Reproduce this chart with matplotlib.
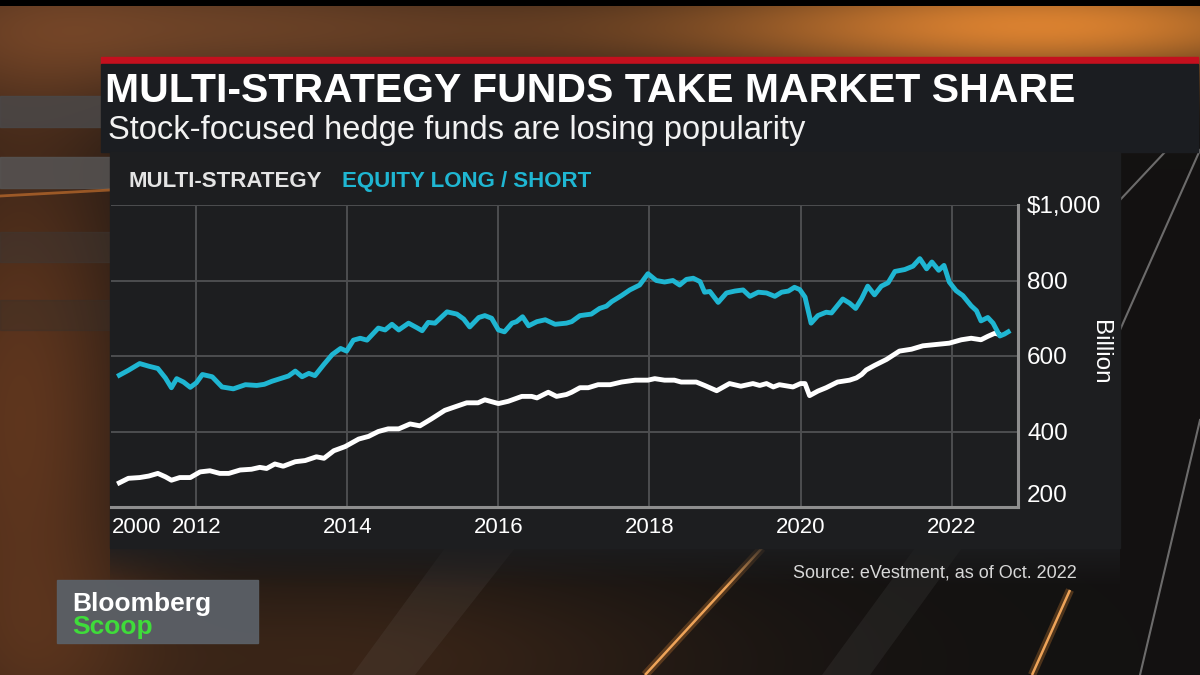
import numpy as np
import matplotlib
matplotlib.use("Agg")
import matplotlib.pyplot as plt
from matplotlib.patches import Rectangle, Polygon

# Data (assets, $ billion)
els_years = [2010.98, 2011.10, 2011.25, 2011.37, 2011.49, 2011.59, 2011.67, 2011.74, 2011.83, 2011.92,
             2012.00, 2012.08, 2012.21, 2012.34, 2012.49, 2012.65, 2012.80, 2012.90, 2013.00, 2013.22,
             2013.31, 2013.40, 2013.49, 2013.57, 2013.69, 2013.80, 2013.91, 2013.99, 2014.08, 2014.17,
             2014.26, 2014.41, 2014.50, 2014.59, 2014.68, 2014.81, 2014.92, 2014.99, 2015.07, 2015.16,
             2015.32, 2015.45, 2015.54, 2015.62, 2015.74, 2015.82, 2015.91, 2016.00, 2016.08, 2016.18,
             2016.24, 2016.32, 2016.40, 2016.51, 2016.62, 2016.75, 2016.90, 2016.97, 2017.08, 2017.23,
             2017.34, 2017.43, 2017.50, 2017.63, 2017.74, 2017.87, 2017.98, 2018.09, 2018.20, 2018.31,
             2018.40, 2018.49, 2018.58, 2018.67, 2018.73, 2018.80, 2018.91, 2019.02, 2019.13, 2019.24,
             2019.33, 2019.44, 2019.55, 2019.66, 2019.75, 2019.84, 2019.92, 2019.99, 2020.06, 2020.14,
             2020.23, 2020.34, 2020.41, 2020.56, 2020.65, 2020.73, 2020.81, 2020.89, 2020.98, 2021.07,
             2021.16, 2021.25, 2021.38, 2021.49, 2021.58, 2021.67, 2021.74, 2021.83, 2021.90, 2021.97,
             2022.06, 2022.15, 2022.26, 2022.33, 2022.39, 2022.48, 2022.55, 2022.64, 2022.70, 2022.75]
els_values = [549, 562, 580, 573, 567, 542, 516, 540, 531, 517,
              529, 551, 545, 518, 513, 524, 522, 525, 533, 547,
              560, 545, 554, 548, 578, 604, 620, 613, 642, 647,
              642, 674, 669, 684, 669, 687, 675, 667, 689, 687,
              717, 711, 698, 677, 702, 707, 700, 669, 664, 687,
              691, 704, 680, 691, 696, 684, 687, 691, 707, 711,
              726, 732, 744, 760, 775, 788, 818, 800, 796, 800,
              788, 803, 806, 797, 769, 771, 742, 767, 772, 775,
              758, 769, 767, 758, 769, 772, 782, 776, 756, 687,
              707, 716, 714, 751, 740, 726, 752, 785, 762, 785,
              794, 824, 829, 838, 858, 831, 849, 827, 840, 796,
              773, 760, 733, 720, 693, 702, 687, 653, 658, 664]

multi_years = [2010.98, 2011.10, 2011.25, 2011.37, 2011.49, 2011.59, 2011.67, 2011.78, 2011.92, 2012.05,
               2012.18, 2012.31, 2012.43, 2012.58, 2012.73, 2012.84, 2012.93, 2013.04, 2013.15, 2013.31,
               2013.44, 2013.59, 2013.69, 2013.82, 2013.97, 2014.15, 2014.28, 2014.41, 2014.54, 2014.68,
               2014.83, 2014.96, 2015.11, 2015.29, 2015.42, 2015.58, 2015.73, 2015.82, 2016.00, 2016.13,
               2016.31, 2016.44, 2016.51, 2016.66, 2016.77, 2016.90, 2016.97, 2017.08, 2017.19, 2017.32,
               2017.48, 2017.63, 2017.81, 2017.98, 2018.07, 2018.20, 2018.33, 2018.42, 2018.62, 2018.73,
               2018.89, 2019.06, 2019.21, 2019.37, 2019.46, 2019.55, 2019.64, 2019.72, 2019.90, 2020.00,
               2020.06, 2020.12, 2020.23, 2020.34, 2020.49, 2020.65, 2020.74, 2020.81, 2020.87, 2020.98,
               2021.14, 2021.31, 2021.47, 2021.62, 2021.82, 2021.97, 2022.13, 2022.26, 2022.39, 2022.48,
               2022.57, 2022.62]
multi_values = [264, 276, 278, 282, 289, 280, 271, 278, 278, 293,
                296, 289, 289, 298, 300, 305, 302, 314, 308, 320,
                323, 333, 329, 349, 360, 380, 387, 400, 407, 407,
                420, 415, 433, 456, 465, 476, 476, 484, 474, 480,
                493, 493, 489, 504, 493, 498, 504, 516, 516, 524,
                524, 531, 536, 536, 540, 536, 536, 531, 531, 522,
                508, 527, 520, 527, 522, 527, 518, 524, 518, 527,
                527, 495, 507, 516, 531, 536, 542, 551, 563, 575,
                591, 613, 618, 627, 631, 634, 643, 647, 643, 652,
                660, 658]

year_ticks = [2012, 2014, 2016, 2018, 2020, 2022]
year_labels = ["2012", "2014", "2016", "2018", "2020", "2022"]
first_tick = 2011.21
first_label = "2000"
value_ticks = [200, 400, 600, 800, 1000]
value_labels = ["200", "400", "600", "800", "$1,000"]

CYAN = "#1fb6d2"
PANEL = "#1d1e20"
FONT = "Liberation Sans"
plt.rcParams["font.family"] = [FONT, "DejaVu Sans"]

W, H = 1200, 675
fig = plt.figure(figsize=(12, 6.75), dpi=100)

# ---- background (broadcast-style backdrop) ----
bg = fig.add_axes([0, 0, 1, 1])
bg.set_xlim(0, W)
bg.set_ylim(H, 0)
bg.axis("off")

yy, xx = np.mgrid[0:H, 0:W].astype(float)


def glow(cx, cy, sx, sy):
    return np.exp(-(((xx - cx) / sx) ** 2 + ((yy - cy) / sy) ** 2) / 2)[..., None]


img = np.ones((H, W, 3)) * np.array([0.075, 0.07, 0.068])
img += np.array([0.80, 0.45, 0.12]) * glow(1060, 25, 240, 40) * 0.9
img += np.array([0.45, 0.24, 0.10]) * glow(620, 30, 300, 35) * 0.35
img += np.array([0.40, 0.22, 0.10]) * glow(150, 25, 260, 60) * 0.7
img += np.array([0.42, 0.20, 0.07]) * glow(20, 420, 90, 260) * 0.7
img += np.array([0.30, 0.15, 0.05]) * glow(330, 660, 260, 70) * 0.5
img = np.clip(img, 0, 1)
img[:6] = 0.0
bg.imshow(img, extent=[0, W, H, 0], aspect="auto", zorder=0)

# gray steps on the left edge
for y0, y1, c, a in [(96, 127, "#4a4848", 0.85), (157, 188, "#565454", 0.85),
                     (232, 262, "#3c3836", 0.45), (300, 330, "#34302d", 0.35)]:
    bg.add_patch(Rectangle((0, y0), 112, y1 - y0, color=c, alpha=a, zorder=1))
bg.plot([0, 110], [196, 190], color="#d87a30", lw=2, alpha=0.6, zorder=1)

# diagonal light beams at the bottom
for pts in [[(445, 548), (515, 548), (415, 675), (352, 675)],
            [(915, 548), (962, 548), (870, 675), (822, 675)]]:
    bg.add_patch(Polygon(pts, closed=True, color="#8a8a8a", alpha=0.10, lw=0, zorder=1))
for (x0, y0), (x1, y1) in [((762, 548), (645, 675)), ((1070, 590), (1032, 675))]:
    bg.plot([x0, x1], [y0, y1], color="#ff9a3c", lw=6, alpha=0.25, zorder=2, solid_capstyle="butt")
    bg.plot([x0, x1], [y0, y1], color="#ffb060", lw=1.8, alpha=0.9, zorder=2, solid_capstyle="butt")
for (x0, y0), (x1, y1) in [((1200, 150), (1120, 330)), ((1165, 152), (1120, 200)), ((1200, 420), (1140, 675))]:
    bg.plot([x0, x1], [y0, y1], color="#a8a8a8", lw=1.5, alpha=0.6, zorder=2)

# title panel and chart panel
bg.add_patch(Rectangle((101, 57), 1097, 7, color="#c4101e", zorder=3))
bg.add_patch(Rectangle((101, 64), 1097, 88, color="#1b1d21", zorder=3))
bg.add_patch(Rectangle((110, 152), 1010, 396, color=PANEL, zorder=3))
fade = np.zeros((40, 1, 4))
fade[..., :3] = matplotlib.colors.to_rgb(PANEL)
fade[:, 0, 3] = np.linspace(0.8, 0.0, 40)
bg.imshow(fade, extent=[110, 1120, 588, 548], aspect="auto", zorder=3)

# Bloomberg Scoop bug
bg.add_patch(Rectangle((57, 580), 201, 63, color="#5b6067", alpha=0.95, zorder=3))
bg.text(72, 611, "Bloomberg", color="white", fontsize=19, fontweight="bold", va="baseline", zorder=4)
bg.text(72, 634, "Scoop", color="#3fdc3a", fontsize=19, fontweight="bold", va="baseline", zorder=4)

# titles and legend
fig.text(105 / W, 1 - 102.5 / H, "MULTI-STRATEGY FUNDS TAKE MARKET SHARE", color="white",
         fontsize=29.5, fontweight="bold", va="baseline", ha="left")
fig.text(108 / W, 1 - 139.5 / H, "Stock-focused hedge funds are losing popularity", color="#f2f2f2",
         fontsize=23.5, va="baseline", ha="left")
fig.text(129 / W, 1 - 187 / H, "MULTI-STRATEGY", color="#e4e4e4", fontsize=16, fontweight="bold",
         va="baseline", ha="left")
fig.text(342 / W, 1 - 187 / H, "EQUITY LONG / SHORT", color=CYAN, fontsize=16, fontweight="bold",
         va="baseline", ha="left")
fig.text(1077 / W, 1 - 578 / H, "Source: eVestment, as of Oct. 2022", color="#d8d8d8",
         fontsize=13, va="baseline", ha="right")

# ---- chart ----
ax = fig.add_axes([111 / W, 1 - 507 / H, (1018 - 111) / W, (507 - 205) / H])
ax.set_facecolor("none")
ax.plot(multi_years, multi_values, color="white", lw=3.5, zorder=3)
ax.plot(els_years, els_values, color=CYAN, lw=3.5, zorder=4)

ax.set_xlim(2010.87, 2022.88)
ax.set_ylim(200, 1000)
ax.set_xticks(year_ticks)
ax.set_xticklabels(year_labels)
ax.set_xticks([first_tick], minor=True)
ax.set_xticklabels([first_label], minor=True)
ax.set_yticks(value_ticks)
ax.set_yticklabels(value_labels)
ax.yaxis.tick_right()

ax.grid(True, which="major", color="#4d4e50", lw=1.4, zorder=1)
ax.tick_params(axis="both", which="both", length=0, colors="white")
ax.tick_params(axis="x", which="both", labelsize=16, pad=7)
ax.tick_params(axis="y", labelsize=17.5, pad=6.5)
ax.yaxis.get_major_ticks()[0].label2.set_verticalalignment("bottom")

for side in ["top", "left"]:
    ax.spines[side].set_visible(False)
for side in ["bottom", "right"]:
    ax.spines[side].set_color("#8e8e8e")
    ax.spines[side].set_linewidth(2.2)

ax.text(1.09, 0.513, "Billion", transform=ax.transAxes, rotation=270, color="white",
        fontsize=17.5, ha="center", va="center")

fig.savefig("out.png", dpi=100)
